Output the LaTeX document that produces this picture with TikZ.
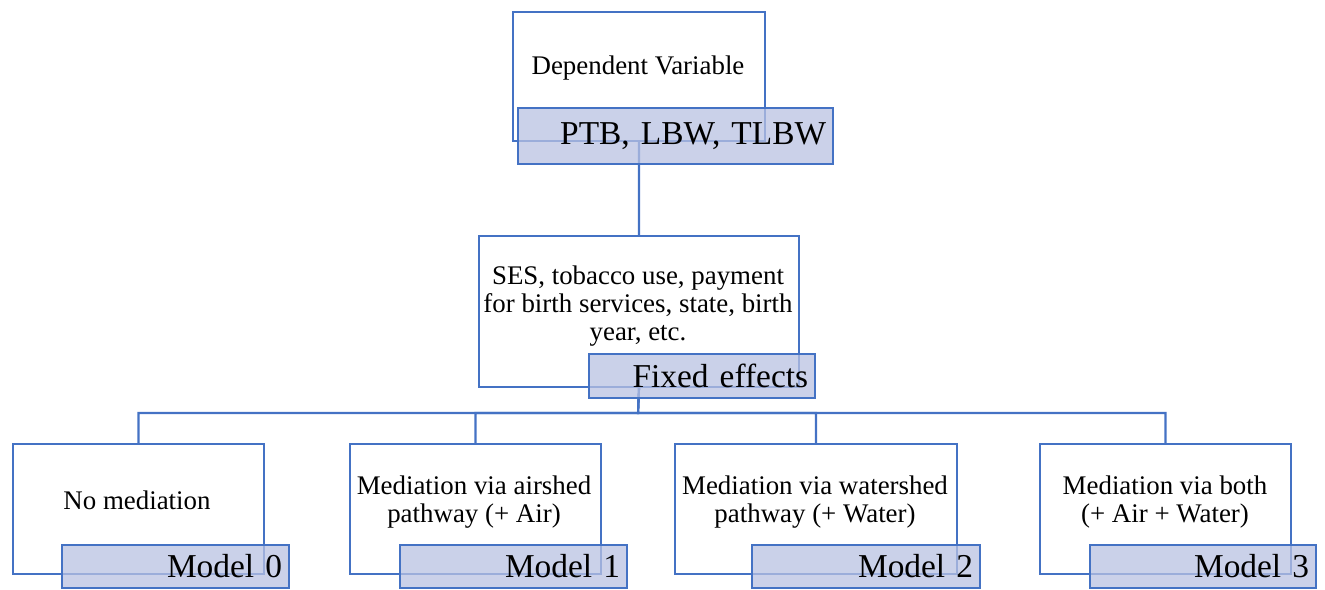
\documentclass[tikz,border=0pt]{standalone}
\usepackage{fontspec}
\setmainfont{Liberation Serif}
\usetikzlibrary{positioning}
\definecolor{frameblue}{RGB}{68,114,196}
\definecolor{tagfill}{RGB}{185,194,226}

\begin{document}
\begin{tikzpicture}[x=0.02cm, y=-0.02cm,
    box/.style={draw=frameblue, line width=1.2pt, fill=white, anchor=north west, inner sep=0pt, minimum height=2.6cm},
    tag/.style={draw=frameblue, line width=1.2pt, fill=tagfill, fill opacity=.75, text opacity=1,
      anchor=north west, inner xsep=4pt, inner ysep=0pt, align=right, minimum height=0.86cm,
      font=\fontsize{19}{21}\selectfont},
    txt/.style={align=center, inner sep=0pt, font=\fontsize{15.3}{15.8}\selectfont},
    conn/.style={draw=frameblue, line width=1.2pt}]
    \useasboundingbox (0,0) rectangle (1325,589);

    % Top box
    \node[box, minimum width=5.04cm, minimum height=2.58cm] (dep) at (512,11) {};
    \node[txt] (deptext) at (638,68) {Dependent Variable};

    % Middle box
    \node[box, minimum width=6.4cm, minimum height=3.02cm] (fe) at (478,235) {};
    \node[txt] (fetext) at (638,306) {SES, tobacco use, payment\\for birth services, state, birth\\year, etc.};

    % Model boxes
    \node[box, minimum width=5.02cm] (m0) at (12,443) {};
    \node[box, minimum width=5.02cm] (m1) at (349,443) {};
    \node[box, minimum width=5.64cm] (m2) at (674,443) {};
    \node[box, minimum width=5.02cm] (m3) at (1039,443) {};
    \node[txt] (m0text) at (137,500) {No mediation};
    \node[txt] (m1text) at (474,502) {Mediation via airshed\\pathway (+ Air)};
    \node[txt] (m2text) at (815,502) {Mediation via watershed\\pathway (+ Water)};
    \node[txt] (m3text) at (1165,502) {Mediation via both\\(+ Air + Water)};

    % Connectors
    \coordinate (bus) at (638,413);
    \draw[conn] (dep.south) -- (fe.north);
    \foreach \m in {m0,m1,m2,m3}
      \draw[conn] (fe.south) -- (bus) -| (\m.north);

    % Tags
    \node[tag, text width=6.02cm, minimum height=1.12cm] (deptag) at (517,107) {PTB, LBW, TLBW};
    \node[tag, text width=4.24cm, minimum height=0.88cm] (fetag) at (588,353) {Fixed effects};
    \node[tag, text width=4.26cm] (m0tag) at (61,544) {Model 0};
    \node[tag, text width=4.26cm] (m1tag) at (399,544) {Model 1};
    \node[tag, text width=4.28cm] (m2tag) at (751,544) {Model 2};
    \node[tag, text width=4.24cm] (m3tag) at (1089,544) {Model 3};
  \end{tikzpicture}
\end{document}
